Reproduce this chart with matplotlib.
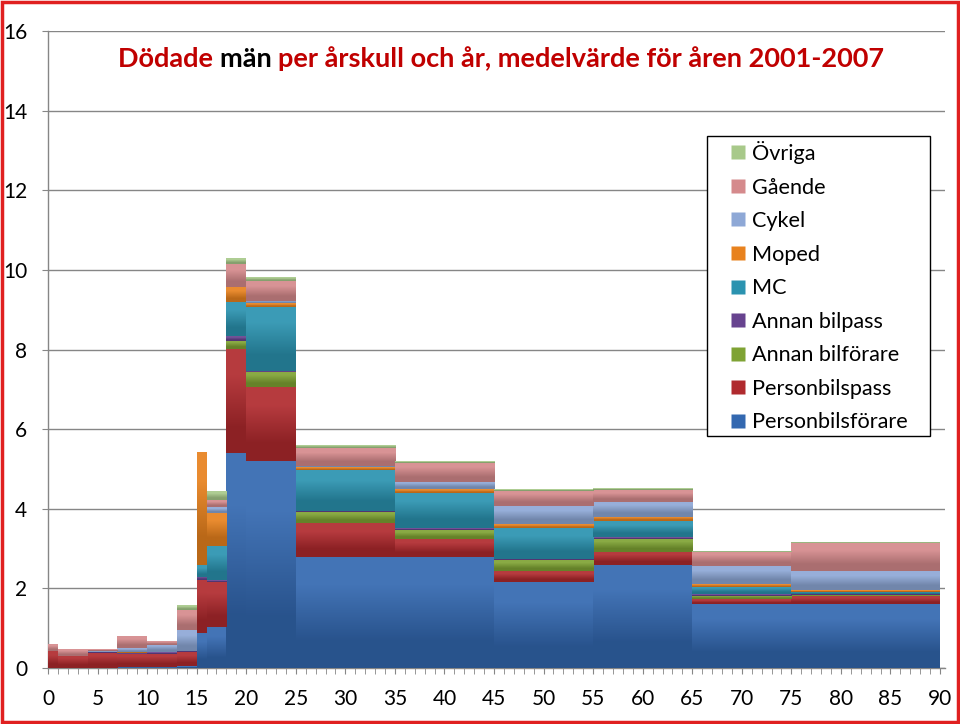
import matplotlib
matplotlib.use("Agg")
import matplotlib.pyplot as plt
import numpy as np
from matplotlib.patches import Rectangle
from matplotlib.lines import Line2D
from matplotlib.colors import to_rgb
from matplotlib.ticker import MultipleLocator

plt.rcParams['font.family'] = ['Lato', 'DejaVu Sans']

# Åldersgrupper (kantår) och dödade män per årskull och år
edges = [0, 1, 4, 7, 10, 13, 15, 16, 18, 20, 25, 35, 45, 55, 65, 75, 90]

personbilsforare = [0.00, 0.00, 0.00, 0.02, 0.02, 0.05, 0.87, 1.04, 5.41, 5.21, 2.78, 2.78, 2.17, 2.59, 1.61, 1.62]
personbilspass = [0.42, 0.31, 0.38, 0.33, 0.34, 0.35, 1.34, 1.13, 2.59, 1.84, 0.85, 0.47, 0.27, 0.33, 0.12, 0.19]
annan_bilforare = [0.00, 0.00, 0.00, 0.00, 0.00, 0.00, 0.00, 0.00, 0.22, 0.39, 0.29, 0.22, 0.27, 0.33, 0.09, 0.02]
annan_bilpass = [0.00, 0.00, 0.03, 0.02, 0.03, 0.03, 0.08, 0.04, 0.12, 0.02, 0.03, 0.04, 0.04, 0.03, 0.03, 0.03]
mc = [0.00, 0.00, 0.00, 0.00, 0.00, 0.00, 0.29, 0.85, 0.86, 1.61, 1.02, 0.88, 0.77, 0.40, 0.18, 0.06]
moped = [0.00, 0.00, 0.00, 0.03, 0.01, 0.00, 2.82, 0.84, 0.36, 0.09, 0.07, 0.10, 0.10, 0.11, 0.07, 0.05]
cykel = [0.00, 0.00, 0.02, 0.10, 0.18, 0.52, 0.00, 0.15, 0.02, 0.06, 0.04, 0.19, 0.44, 0.39, 0.45, 0.46]
gaende = [0.16, 0.17, 0.04, 0.28, 0.08, 0.50, 0.00, 0.17, 0.56, 0.49, 0.44, 0.48, 0.39, 0.28, 0.37, 0.70]
ovriga = [0.00, 0.00, 0.00, 0.00, 0.00, 0.11, 0.00, 0.21, 0.13, 0.10, 0.06, 0.05, 0.03, 0.03, 0.02, 0.02]

series = [
    ("Personbilsförare", personbilsforare, "#3368b0"),
    ("Personbilspass", personbilspass, "#b02a2e"),
    ("Annan bilförare", annan_bilforare, "#7fa334"),
    ("Annan bilpass", annan_bilpass, "#67438f"),
    ("MC", mc, "#2b93b0"),
    ("Moped", moped, "#e8821e"),
    ("Cykel", cykel, "#8ea8d6"),
    ("Gående", gaende, "#d58a8c"),
    ("Övriga", ovriga, "#a8c98a"),
]

left = np.array(edges[:-1], dtype=float)
widths = np.diff(edges).astype(float)

fig = plt.figure(figsize=(9.6, 7.24), dpi=100)
ax = fig.add_axes([48 / 960, 56 / 724, 897 / 960, 637 / 724])

bottom = np.zeros(len(left))
handles = []
for name, vals, col in series:
    vals = np.array(vals)
    bars = ax.bar(left, vals, width=widths, bottom=bottom, align='edge',
                  color=col, edgecolor='none', linewidth=0, label=name, zorder=3)
    # Excel-liknande gradient: ljusare upptill, mörkare nedtill
    rgb = np.array(to_rgb(col))
    top_c = rgb + (1 - rgb) * 0.08
    bot_c = rgb * 0.80
    grad = np.array([[top_c], [bot_c]])
    for p in bars:
        if p.get_height() <= 0:
            continue
        x0, y0 = p.get_x(), p.get_y()
        ax.imshow(grad, extent=(x0, x0 + p.get_width(), y0, y0 + p.get_height()),
                  aspect='auto', interpolation='bilinear', origin='upper', zorder=3.5)
    handles.append(Line2D([], [], marker='s', linestyle='', markersize=9.5,
                          markerfacecolor=col, markeredgecolor='none'))
    bottom += vals

ax.set_xlim(0, 90.5)
ax.set_ylim(0, 16)
ax.yaxis.set_major_locator(MultipleLocator(2))
ax.xaxis.set_major_locator(MultipleLocator(5))
ax.xaxis.set_minor_locator(MultipleLocator(1))
ax.grid(axis='y', color='#868686', linewidth=1, zorder=0)
ax.set_axisbelow(True)

for s in ['top', 'right']:
    ax.spines[s].set_visible(False)
for s in ['left', 'bottom']:
    ax.spines[s].set_color('#868686')
    ax.spines[s].set_linewidth(1)

ax.tick_params(axis='y', which='major', length=4, color='#868686',
               labelsize=15, pad=11)
ax.tick_params(axis='x', which='both', length=4, color='#868686',
               labelsize=15, pad=11)

# Titel i tre delar, "män" i svart
dark_red = '#c00000'
tsize = 19.5
t1 = fig.text(118 / 960, 1 - 67 / 724, "Dödade ", color=dark_red,
              fontsize=tsize, fontweight='bold', va='baseline')
t2 = ax.annotate("män ", xy=(1, 0), xycoords=t1, va='bottom', ha='left',
                 color='black', fontsize=tsize, fontweight='bold')
t3 = ax.annotate("per årskull och år, medelvärde för åren 2001-2007",
                 xy=(1, 0), xycoords=t2, va='bottom', ha='left',
                 color=dark_red, fontsize=tsize, fontweight='bold')

# Förklaring: ram ritas separat så att den får samma storlek som i originalet
frame = Rectangle((707 / 960, 1 - 436 / 724), 223 / 960, 300 / 724,
                  transform=fig.transFigure, facecolor='white',
                  edgecolor='black', linewidth=1, zorder=5, clip_on=False)
ax.add_patch(frame)
leg = ax.legend(handles[::-1], [s[0] for s in series][::-1],
                loc='upper left', bbox_to_anchor=(707 / 960, 1 - 136 / 724),
                bbox_transform=fig.transFigure, fontsize=15.6,
                frameon=False, handlelength=2.43, handletextpad=-0.58,
                labelspacing=0.625, borderpad=0.23, borderaxespad=0)
leg.set_zorder(6)

fig.patches.append(Rectangle((0.002, 0.003), 0.996, 0.994, transform=fig.transFigure,
                             fill=False, edgecolor='#e02020', linewidth=2.5))

fig.savefig("out.png", dpi=100)
